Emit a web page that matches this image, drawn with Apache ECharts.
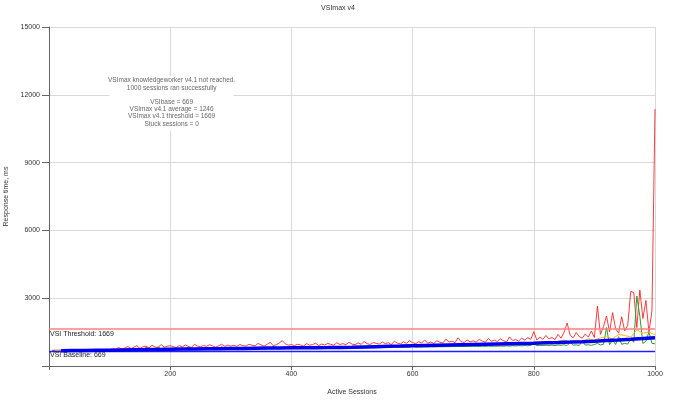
<!DOCTYPE html>
<html><head><meta charset="utf-8">
<script src="https://cdn.jsdelivr.net/npm/echarts@6/dist/echarts.min.js"></script>
<style>html,body{margin:0;padding:0;background:#fff}#c{width:676px;height:401px}</style>
</head><body><div id="c"></div>
<script>
// Sessions for max/min series (every 5 sessions)
const sessions = [5,10,15,20,25,30,35,40,45,50,55,60,65,70,75,80,85,90,95,100,
105,110,115,120,125,130,135,140,145,150,155,160,165,170,175,180,185,190,195,200,
205,210,215,220,225,230,235,240,245,250,255,260,265,270,275,280,285,290,295,300,
305,310,315,320,325,330,335,340,345,350,355,360,365,370,375,380,385,390,395,400,
405,410,415,420,425,430,435,440,445,450,455,460,465,470,475,480,485,490,495,500,
505,510,515,520,525,530,535,540,545,550,555,560,565,570,575,580,585,590,595,600,
605,610,615,620,625,630,635,640,645,650,655,660,665,670,675,680,685,690,695,700,
705,710,715,720,725,730,735,740,745,750,755,760,765,770,775,780,785,790,795,800,
805,810,815,820,825,830,835,840,845,850,855,860,865,870,875,880,885,890,895,900,
905,910,915,920,925,930,935,940,945,950,955,960,965,970,975,980,985,990,995,1000];
const maxResponse = [690,700,695,705,700,710,705,712,708,715,712,718,720,715,722,725,720,730,735,728,
760,740,820,750,790,860,770,830,900,780,850,880,800,920,840,810,950,830,870,900,
860,820,900,850,930,870,820,960,880,850,910,870,940,890,830,900,960,870,920,880,
910,870,950,900,880,960,920,890,1000,930,880,960,1050,900,940,1020,1120,980,920,950,
900,960,930,880,990,920,950,1010,900,970,930,1000,960,920,1030,950,990,940,1050,970,
940,1020,960,1080,990,950,1040,1000,970,1060,990,1030,950,1100,1010,980,1070,1000,1120,1030,
990,1080,1020,1150,1010,1060,1000,1120,1050,1020,1190,1060,1100,1030,1250,1080,1040,1150,1070,1110,
1060,1180,1100,1050,1220,1090,1140,1080,1200,1120,1060,1290,1130,1170,1100,1230,1150,1250,1180,1520,
1150,1280,1180,1350,1200,1260,1170,1400,1230,1500,1900,1360,1250,1480,1300,1230,1420,1280,1550,1260,
2650,1400,1750,2210,1500,2360,1650,1450,2180,1550,1800,3300,3250,1700,3360,2100,2900,1500,2450,11370];
const minResponse = [680,675,685,680,690,685,680,690,695,688,692,690,698,694,700,696,702,698,705,700,
700,720,705,760,710,740,715,790,720,780,725,830,730,760,735,850,740,800,745,770,
720,800,730,760,725,850,735,740,730,790,740,735,745,760,738,742,860,745,750,748,
745,760,750,755,748,790,752,760,755,800,758,770,760,880,762,765,770,775,768,770,
770,765,775,780,772,778,790,775,780,800,782,785,790,788,795,800,792,805,798,800,
800,805,802,810,808,815,812,860,815,820,818,825,822,900,826,830,828,835,832,880,
835,840,838,845,842,850,845,848,852,850,856,855,860,858,862,860,866,864,870,868,
870,860,875,865,880,870,878,872,885,875,890,880,895,885,900,890,905,895,910,1000,
900,915,905,920,910,925,900,930,915,940,905,1050,920,935,910,1100,925,940,915,950,
1000,930,960,1700,940,1150,950,1300,960,1000,970,1200,1050,3100,2200,1000,1100,1500,1000,980];
// Average response (every 10 sessions)
const sessionsAvg = [10,20,30,40,50,60,70,80,90,100,110,120,130,140,150,160,170,180,190,200,
210,220,230,240,250,260,270,280,290,300,310,320,330,340,350,360,370,380,390,400,
410,420,430,440,450,460,470,480,490,500,510,520,530,540,550,560,570,580,590,600,
610,620,630,640,650,660,670,680,690,700,710,720,730,740,750,760,770,780,790,800,
810,820,830,840,850,860,870,880,890,900,910,920,930,940,950,960,970,980,990,1000];
const avgResponse = [690,695,700,702,705,708,710,712,715,718,
720,735,725,745,730,760,740,750,745,755,
750,765,755,770,760,780,765,790,770,775,
780,790,785,800,795,830,800,805,810,800,
815,810,825,820,835,830,840,835,850,845,
855,850,865,860,880,870,885,875,895,890,
900,905,910,925,915,930,925,940,935,950,
950,960,955,975,965,985,980,1000,990,1050,
1020,1060,1040,1080,1150,1070,1120,1090,1200,1150,
1250,1300,1200,1400,1350,1280,1600,1450,1500,1380];
// VSI index average (every 20 sessions)
const sessionsIdx = [20,40,60,80,100,120,140,160,180,200,220,240,260,280,300,320,340,360,380,400,
420,440,460,480,500,520,540,560,580,600,620,640,660,680,700,720,740,760,780,800,
820,840,860,880,900,920,940,960,980,1000];
const vsiIndex = [678,684,690,696,702,710,718,726,735,743,749,755,761,767,773,779,785,791,797,803,
808,812,816,821,830,843,857,871,885,900,911,922,933,944,955,966,977,988,999,1010,
1025,1040,1058,1078,1100,1125,1150,1180,1212,1248];
const vsiThreshold = 1669;
const vsiBaseline = 669;
const yTicks = [0,3000,6000,9000,12000,15000];
const xTicks = [0,200,400,600,800,1000];
const noteLines = ['VSImax knowledgeworker v4.1 not reached.','1000 sessions ran successfully','','VSIbase = 669','VSImax v4.1 average = 1246','VSImax v4.1 threshold = 1669','Stuck sessions = 0'];

const zip = (xs, ys) => xs.map((x, i) => [x, ys[i]]);
const FONT = 'Liberation Sans';
const refLine = (name, value, color, width, dist) => ({
  name: name, type: 'line', data: [], z: 1,
  markLine: {
    silent: true, symbol: 'none',
    lineStyle: {color: color, width: width, type: 'solid', opacity: 1},
    label: {formatter: name + ': ' + value, position: 'insideStartBottom', fontSize: 7, color: '#222', distance: dist, fontFamily: FONT},
    data: [{yAxis: value}]
  }
});
const chart = echarts.init(document.getElementById('c'), null, {renderer: 'canvas'});
chart.setOption({
  animation: false,
  backgroundColor: '#fff',
  textStyle: {fontFamily: FONT},
  title: {text: 'VSImax v4', left: 'center', top: 0, textStyle: {fontSize: 7, fontWeight: 'normal', color: '#333', fontFamily: FONT}},
  grid: {left: 49, right: 21, top: 27, bottom: 35, containLabel: false, outerBoundsMode: 'none'},
  xAxis: {
    type: 'value', min: xTicks[0], max: xTicks[xTicks.length-1], interval: 200,
    name: 'Active Sessions', nameLocation: 'middle', nameGap: 23,
    nameTextStyle: {fontSize: 7, color: '#333', fontFamily: FONT},
    axisLine: {show: true, lineStyle: {color: '#666', width: 1}},
    axisTick: {show: true, length: 4, lineStyle: {color: '#666'}},
    axisLabel: {fontSize: 7, color: '#333', margin: 5, fontFamily: FONT, formatter: v => v === 0 ? '' : String(v)},
    splitLine: {show: true, lineStyle: {color: '#d9d9d9', width: 1}}
  },
  yAxis: {
    type: 'value', min: yTicks[0], max: yTicks[yTicks.length-1], interval: 3000,
    name: 'Response time, ms', nameLocation: 'middle', nameGap: 38, nameRotate: 90,
    nameTextStyle: {fontSize: 7, color: '#333', fontFamily: FONT},
    axisLine: {show: true, lineStyle: {color: '#666', width: 1}},
    axisTick: {show: true, length: 7, lineStyle: {color: '#666'}},
    axisLabel: {fontSize: 7, color: '#333', margin: 9, fontFamily: FONT, formatter: v => v === 0 ? '' : String(v)},
    splitLine: {show: true, lineStyle: {color: '#d9d9d9', width: 1}}
  },
  graphic: [{
    type: 'text', left: 108, top: 76, z: 50,
    style: {
      text: noteLines.join('\n'), fill: '#666', font: '6.5px "Liberation Sans"',
      textAlign: 'center', lineHeight: 7.2, backgroundColor: '#fff', padding: [1, 4, 3, 4], width: 116
    }
  }],
  series: [
    refLine('VSI Threshold', vsiThreshold, '#ff8080', 1.5, [1, 2]),
    refLine('VSI Baseline', vsiBaseline, '#2020ff', 1.3, [1, 1]),
    {name: 'Max', type: 'line', data: zip(sessions, maxResponse), showSymbol: false, z: 2,
     lineStyle: {color: '#ff1a1a', width: 1, opacity: 0.85}, itemStyle: {color: '#ff1a1a'}},
    {name: 'Min', type: 'line', data: zip(sessions, minResponse), showSymbol: false, z: 3,
     lineStyle: {color: '#2e9a2e', width: 1}, itemStyle: {color: '#2e9a2e'}},
    {name: 'Avg', type: 'line', data: zip(sessionsAvg, avgResponse), showSymbol: false, z: 4,
     lineStyle: {color: '#ffb020', width: 1}, itemStyle: {color: '#ffb020'}},
    {name: 'VSI Index', type: 'line', data: zip(sessionsIdx, vsiIndex), showSymbol: false, z: 5,
     lineStyle: {color: '#0000ee', width: 3.5}, itemStyle: {color: '#0000ee'}}
  ]
});
</script></body></html>
